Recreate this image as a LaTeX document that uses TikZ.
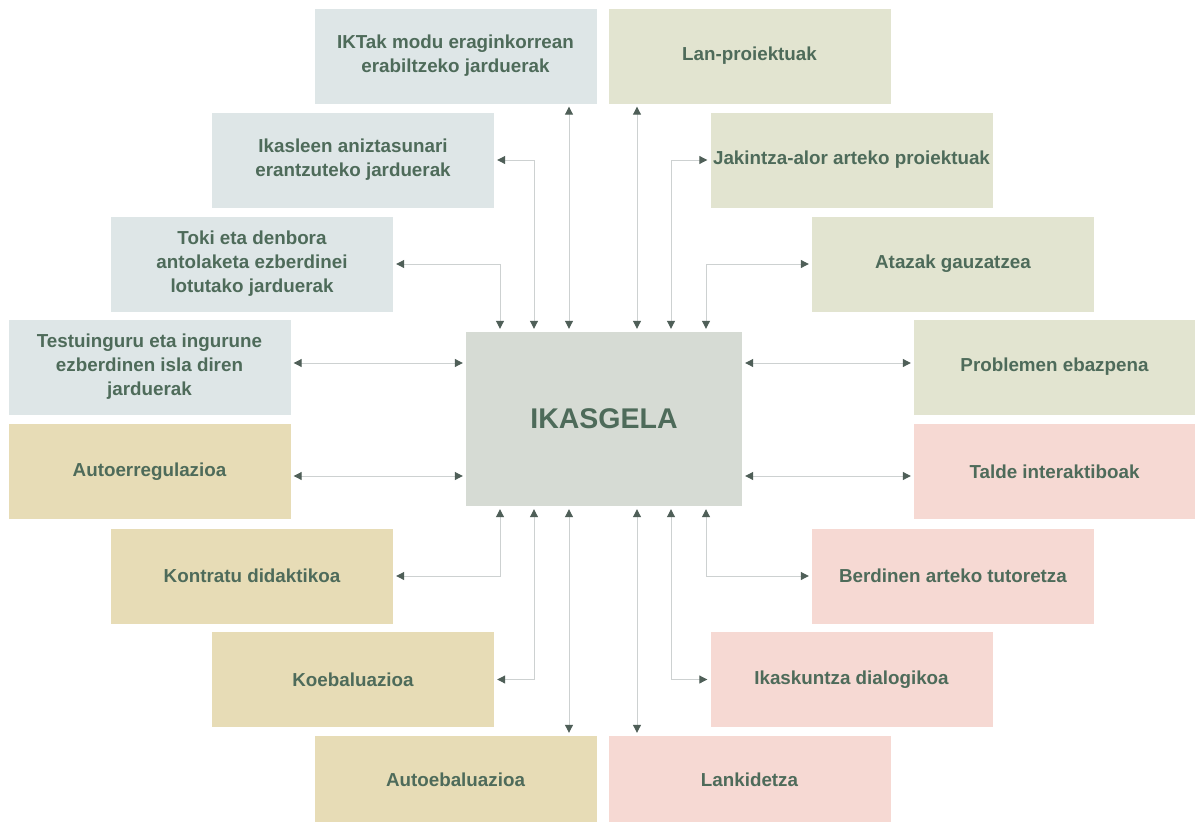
\documentclass[tikz,border=0pt]{standalone}
\usepackage{fontspec}
\setmainfont{Liberation Sans}
\usetikzlibrary{arrows.meta}
\definecolor{cblue}{HTML}{DEE6E7}
\definecolor{ctan}{HTML}{E7DCB6}
\definecolor{cgreen}{HTML}{E2E4D0}
\definecolor{cpink}{HTML}{F6D9D3}
\definecolor{ccenter}{HTML}{D6DBD4}
\definecolor{ctext}{HTML}{4E6B5A}
\definecolor{cline}{HTML}{CDD1D1}
\definecolor{ctip}{HTML}{4F5F58}
\tikzset{
  box/.style={rectangle, inner sep=0pt, minimum width=282pt, minimum height=95pt,
    align=center, text=ctext, font=\bfseries\fontsize{18.8}{24}\selectfont},
  bluebox/.style={box, fill=cblue},
  tanbox/.style={box, fill=ctan},
  greenbox/.style={box, fill=cgreen},
  pinkbox/.style={box, fill=cpink},
  conn/.style={draw=cline, line width=1pt,
    {Triangle[length=8pt,width=8pt,color=ctip]}-{Triangle[length=8pt,width=8pt,color=ctip]},
    shorten <=3pt, shorten >=3pt},
}
\begin{document}
\begin{tikzpicture}[x=1pt,y=-1pt]
\useasboundingbox (0,0) rectangle (1195,822);
\fill[white] (0,0) rectangle (1195,822);
% center
\node[rectangle, fill=ccenter, minimum width=276pt, minimum height=174pt, inner sep=0pt,
  text=ctext, font=\bfseries\fontsize{28.5}{34}\selectfont] (c) at (604,419) {IKASGELA};
% left column
\node[bluebox] (ikt) at (455.5,56) {IKTak modu eraginkorrean\\erabiltzeko jarduerak};
\node[bluebox] (ika) at (353,160) {Ikasleen aniztasunari\\erantzuteko jarduerak};
\node[bluebox] (tok) at (252,264) {Toki eta denbora\\antolaketa ezberdinei\\lotutako jarduerak};
\node[bluebox] (tes) at (149.5,367) {Testuinguru eta ingurune\\ezberdinen isla diren\\jarduerak};
\node[tanbox] (aut) at (149.5,471.5) {Autoerregulazioa};
\node[tanbox] (kon) at (252,576) {Kontratu didaktikoa};
\node[tanbox] (koe) at (353,679.5) {Koebaluazioa};
\node[tanbox, minimum height=88pt] (aeb) at (455.5,780) {Autoebaluazioa};
% right column
\node[greenbox] (lan) at (749.5,56) {Lan-proiektuak};
\node[greenbox] (jak) at (851.5,160) {Jakintza-alor arteko proiektuak};
\node[greenbox] (ata) at (953,264) {Atazak gauzatzea};
\node[greenbox, minimum width=281pt] (pro) at (1054.5,367) {Problemen ebazpena};
\node[pinkbox, minimum width=281pt] (tal) at (1054.5,471.5) {Talde interaktiboak};
\node[pinkbox] (ber) at (953,576) {Berdinen arteko tutoretza};
\node[pinkbox] (iks) at (851.5,679.5) {Ikaskuntza dialogikoa};
\node[pinkbox, minimum height=88pt] (lnk) at (749.5,780) {Lankidetza};
% connectors top
\draw[conn] (ikt.south -| 569,0) -- (c.north -| 569,0);
\draw[conn] (lan.south -| 637,0) -- (c.north -| 637,0);
\draw[conn] (ika.east) -| (c.north -| 534,0);
\draw[conn] (tok.east) -| (c.north -| 500,0);
\draw[conn] (jak.west) -| (c.north -| 671,0);
\draw[conn] (ata.west) -| (c.north -| 706,0);
% sides
\draw[conn] (tes.east |- 0,363) -- (c.west |- 0,363);
\draw[conn] (aut.east |- 0,476) -- (c.west |- 0,476);
\draw[conn] (c.east |- 0,363) -- (pro.west |- 0,363);
\draw[conn] (c.east |- 0,476) -- (tal.west |- 0,476);
% bottom
\draw[conn] (c.south -| 500,0) |- (kon.east);
\draw[conn] (c.south -| 534,0) |- (koe.east);
\draw[conn] (c.south -| 569,0) -- (aeb.north -| 569,0);
\draw[conn] (c.south -| 637,0) -- (lnk.north -| 637,0);
\draw[conn] (c.south -| 671,0) |- (iks.west);
\draw[conn] (c.south -| 706,0) |- (ber.west);
\end{tikzpicture}
\end{document}
